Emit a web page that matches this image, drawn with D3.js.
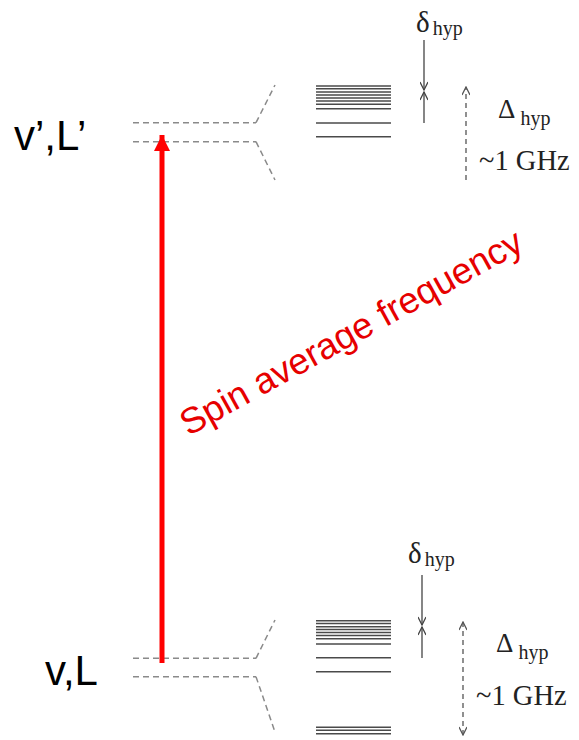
<!DOCTYPE html>
<html>
<head>
<meta charset="utf-8">
<script src="https://cdn.jsdelivr.net/npm/d3@7"></script>
<style>
  html, body { margin: 0; padding: 0; background: #fff; }
  svg { display: block; }
</style>
</head>
<body>
<svg id="chart" width="579" height="740"></svg>
<script>
// ---- data (energy units, picture-scaled, increasing upward) ----
const stateLabels = ["v\u2019,L\u2019", "v,L"];
const fineLevelsUpper = [617.3, 598.3];          // dashed levels of v',L'
const fineLevelsLower = [81.7, 63.3];            // dashed levels of v,L
const branchUpper = [655, 560];                  // dashed branch ends (top, bottom)
const branchLower = [120, 8];
const hyperfineUpper = [654, 651.2, 648, 645, 642, 639, 635.7, 631.3, 617, 603.3];
const hyperfineLower = [119.3, 116.5, 113.3, 110.5, 107.5, 104.5, 101.3, 96, 82.3, 68.3, 12.7, 9.7, 6.3];
const transition = [77, 605];                    // spin-average transition (from, to)
const transitionLabel = "Spin average frequency";
const deltaSmallUpper = [700, 649, 617];         // δhyp arrows: top, meet, bottom
const deltaSmallLower = [165, 114, 82];
const deltaLargeUpper = [653, 560];              // Δhyp dashed arrow: top, bottom
const deltaLargeLower = [118, 5];
const annotSmall = "\u03b4";
const annotLarge = "\u0394";
const annotSub = "hyp";
const annotFreq = "~1 GHz";

// ---- scales ----
const W = 579, H = 740;
const x = d3.scaleLinear().domain([0, W]).range([0, W]);
const y = d3.scaleLinear().domain([0, H]).range([H, 0]);

const svg = d3.select("#chart");

const defs = svg.append("defs");
defs.append("marker").attr("id", "redHead")
  .attr("viewBox", "0 0 10 10").attr("refX", 10).attr("refY", 5)
  .attr("markerWidth", 3.2).attr("markerHeight", 3.2).attr("markerUnits", "strokeWidth")
  .attr("orient", "auto")
  .append("path").attr("d", "M0,0 L10,5 L0,10 Z").attr("fill", "#ff0000");
function openHead(id, color) {
  defs.append("marker").attr("id", id)
    .attr("viewBox", "0 0 10 10").attr("refX", 10).attr("refY", 5)
    .attr("markerWidth", 10).attr("markerHeight", 8).attr("markerUnits", "userSpaceOnUse")
    .attr("orient", "auto-start-reverse")
    .append("path").attr("d", "M0,0 L10,5 L0,10").attr("fill", "none")
    .attr("stroke", color).attr("stroke-width", 1.6);
}
openHead("openHead", "#444");
openHead("openHeadD", "#555");

// ---- dashed fine levels with branches ----
function fineBlock(levels, branch) {
  const g = svg.append("g").attr("stroke", "#8a8a8a").attr("stroke-width", 1.5)
    .attr("stroke-dasharray", "6,4").attr("fill", "none");
  g.selectAll("line.lvl").data(levels).join("line").attr("class", "lvl")
    .attr("x1", x(133)).attr("x2", x(256))
    .attr("y1", d => y(d)).attr("y2", d => y(d));
  g.append("line").attr("x1", x(256)).attr("y1", y(levels[0]))
    .attr("x2", x(275)).attr("y2", y(branch[0]));
  g.append("line").attr("x1", x(256)).attr("y1", y(levels[1]))
    .attr("x2", x(275)).attr("y2", y(branch[1]));
}
fineBlock(fineLevelsUpper, branchUpper);
fineBlock(fineLevelsLower, branchLower);

// ---- hyperfine sublevels ----
function hyperBlock(levels) {
  svg.append("g").selectAll("line").data(levels).join("line")
    .attr("x1", x(316)).attr("x2", x(391))
    .attr("y1", d => y(d)).attr("y2", d => y(d))
    .attr("stroke", "#4a4a4a").attr("stroke-width", 1.6);
}
hyperBlock(hyperfineUpper);
hyperBlock(hyperfineLower);

// ---- state labels ----
svg.append("text").text(stateLabels[0])
  .attr("x", x(14)).attr("y", y(590))
  .attr("font-family", "Liberation Sans, Arial, sans-serif")
  .attr("font-size", 42).attr("fill", "#000");
svg.append("text").text(stateLabels[1])
  .attr("x", x(45)).attr("y", y(55))
  .attr("font-family", "Liberation Sans, Arial, sans-serif")
  .attr("font-size", 42).attr("fill", "#000");

// ---- red transition arrow ----
svg.append("line")
  .attr("x1", x(162)).attr("x2", x(162))
  .attr("y1", y(transition[0])).attr("y2", y(transition[1]))
  .attr("stroke", "#ff0000").attr("stroke-width", 5)
  .attr("marker-end", "url(#redHead)");

svg.append("text").text(transitionLabel)
  .attr("transform", `translate(${x(357)},${y(397)}) rotate(-29)`)
  .attr("text-anchor", "middle")
  .attr("font-family", "Liberation Sans, Arial, sans-serif")
  .attr("font-size", 36.5).attr("fill", "#e60000");

// ---- δhyp arrows ----
function smallDelta(vals, xc) {
  svg.append("line").attr("x1", x(xc)).attr("x2", x(xc))
    .attr("y1", y(vals[0])).attr("y2", y(vals[1]) - 1)
    .attr("stroke", "#444").attr("stroke-width", 1.3)
    .attr("marker-end", "url(#openHead)");
  svg.append("line").attr("x1", x(xc)).attr("x2", x(xc))
    .attr("y1", y(vals[2])).attr("y2", y(vals[1]) + 1)
    .attr("stroke", "#444").attr("stroke-width", 1.3)
    .attr("marker-end", "url(#openHead)");
}
smallDelta(deltaSmallUpper, 424);
smallDelta(deltaSmallLower, 422);

// ---- Δhyp dashed arrows ----
svg.append("line").attr("x1", x(466)).attr("x2", x(466))
  .attr("y1", y(deltaLargeUpper[1])).attr("y2", y(deltaLargeUpper[0]))
  .attr("stroke", "#555").attr("stroke-width", 1.3).attr("stroke-dasharray", "5,4")
  .attr("marker-end", "url(#openHeadD)");
svg.append("line").attr("x1", x(463)).attr("x2", x(463))
  .attr("y1", y(deltaLargeLower[1])).attr("y2", y(deltaLargeLower[0]))
  .attr("stroke", "#555").attr("stroke-width", 1.3).attr("stroke-dasharray", "5,4")
  .attr("marker-start", "url(#openHeadD)")
  .attr("marker-end", "url(#openHeadD)");

// ---- annotation texts ----
const serif = "Liberation Serif, Times New Roman, serif";
function annot(gx, gy, big, bigSize, subDx, subDy, subSize) {
  const t = svg.append("text").attr("x", x(gx)).attr("y", y(gy))
    .attr("font-family", serif).attr("fill", "#222");
  t.append("tspan").text(big).attr("font-size", bigSize);
  t.append("tspan").text(annotSub).attr("font-size", subSize)
    .attr("dx", subDx).attr("dy", subDy);
}
annot(416, 708, annotSmall, 29, 3, 3, 20);
annot(408, 177, annotSmall, 29, 3, 3, 20);
annot(498, 622, annotLarge, 27, 5, 7, 20);
annot(496, 88, annotLarge, 27, 5, 7, 20);

svg.append("text").text(annotFreq).attr("x", x(479)).attr("y", y(570))
  .attr("font-family", serif).attr("font-size", 28.5).attr("fill", "#222");
svg.append("text").text(annotFreq).attr("x", x(476)).attr("y", y(35))
  .attr("font-family", serif).attr("font-size", 28.5).attr("fill", "#222");
</script>
</body>
</html>
